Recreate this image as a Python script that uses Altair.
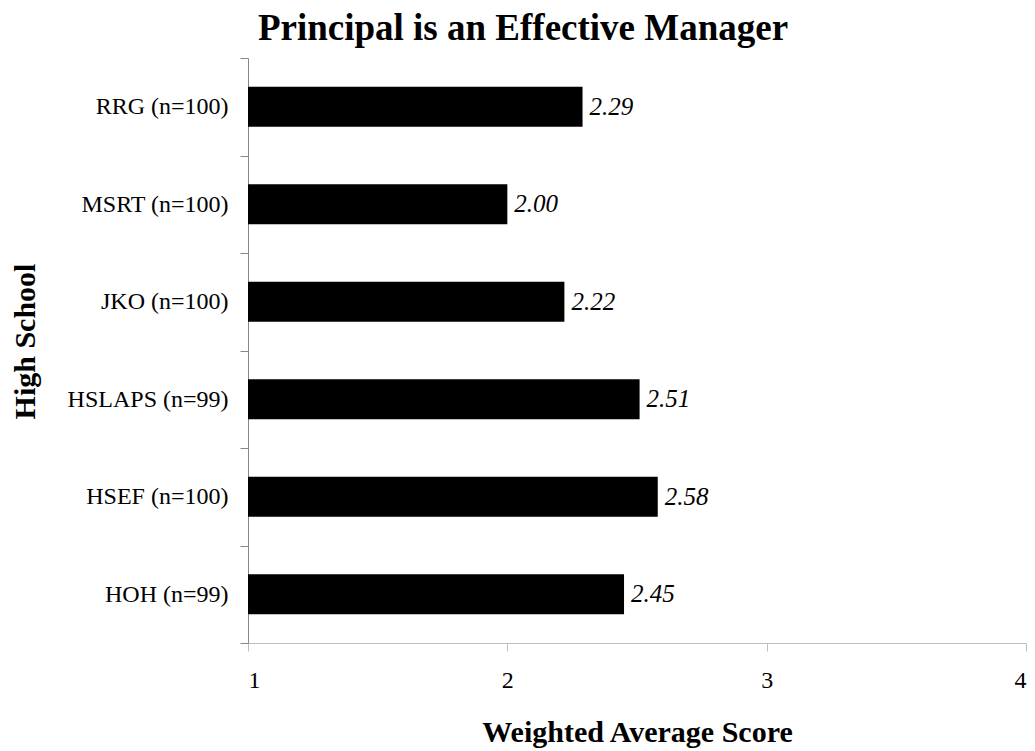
import altair as alt
import pandas as pd

schools = ["RRG (n=100)", "MSRT (n=100)", "JKO (n=100)", "HSLAPS (n=99)", "HSEF (n=100)", "HOH (n=99)"]
scores = [2.29, 2.00, 2.22, 2.51, 2.58, 2.45]
x_ticks = [1, 2, 3, 4]

df = pd.DataFrame({"school": schools, "score": scores})

FONT = "Liberation Serif"

y_enc = alt.Y(
    "school:N",
    sort=schools,
    scale=alt.Scale(paddingInner=0, paddingOuter=0),
    axis=alt.Axis(
        title="High School",
        titleFont=FONT,
        titleFontSize=30,
        titleFontWeight="bold",
        titleColor="black",
        titleAngle=270,
        titleX=-223,
        titleY=283,
        titleBaseline="middle",
        labelFont=FONT,
        labelFontSize=24,
        labelColor="black",
        labelPadding=12,
        tickBand="extent",
        tickSize=8,
        tickColor="#878787",
        domainColor="#878787",
        grid=False,
    ),
)

x_scale = alt.Scale(domain=[1, 4], nice=False, zero=False)
x_axis = alt.Axis(
    title="Weighted Average Score",
    titleFont=FONT,
    titleFontSize=30,
    titleFontWeight="bold",
    titleColor="black",
    titleBaseline="alphabetic",
    titleY=98,
    labelFont=FONT,
    labelFontSize=24,
    labelColor="black",
    labelPadding=17,
    values=x_ticks,
    format="d",
    tickSize=8,
    tickColor="#BEBEBE",
    domainColor="#BEBEBE",
    grid=False,
)

bars = alt.Chart(df).mark_bar(color="black", size=40).encode(
    y=y_enc,
    x=alt.X("score:Q", scale=x_scale, axis=x_axis),
    x2=alt.datum(1),
)

labels = alt.Chart(df).mark_text(
    align="left", baseline="middle", dx=7, font=FONT, fontSize=25,
    fontStyle="italic", color="black",
).encode(
    y=alt.Y("school:N", sort=schools),
    x=alt.X("score:Q", scale=x_scale),
    text=alt.Text("score:Q", format=".2f"),
)

chart = (
    alt.layer(bars, labels)
    .properties(
        width=778,
        height=585,
        autosize=alt.AutoSizeParams(type="none"),
        padding={"left": 240, "top": 50, "right": 1, "bottom": 107},
        background="white",
        title=alt.TitleParams(
            "Principal is an Effective Manager",
            font=FONT,
            fontSize=37,
            fontWeight="bold",
            color="black",
            anchor="middle",
            frame="group",
            baseline="alphabetic",
            offset=21,
            dx=-114,
            dy=52,
        ),
    )
    .configure_view(stroke=None)
)

chart.save("out.html", embed_options={"renderer": "svg", "actions": False})
